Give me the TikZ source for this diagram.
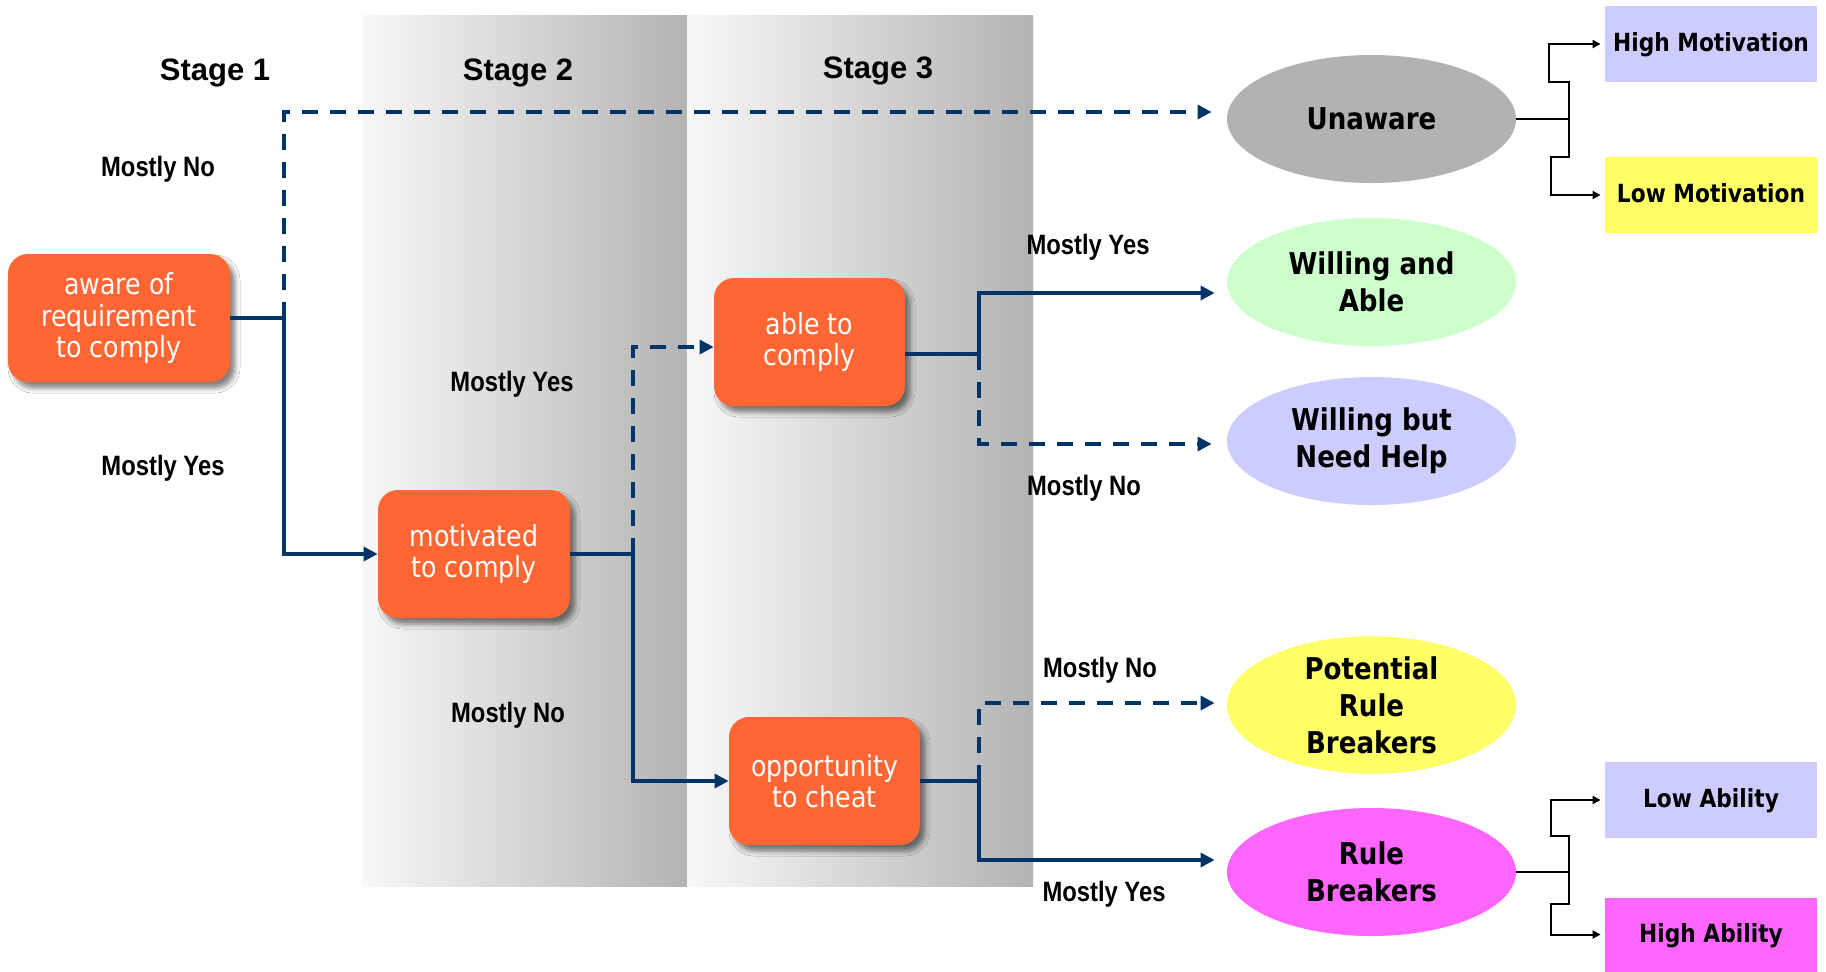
\documentclass[tikz,border=0pt]{standalone}
\usepackage{fontspec}
\setmainfont{Liberation Sans}
\newfontfamily\labfont[FakeStretch=0.85]{Liberation Sans}
\newfontfamily\tahfont[FakeStretch=0.87]{DejaVu Sans}
\usetikzlibrary{arrows.meta,shapes.geometric,shadows.blur,calc}
\definecolor{orng}{HTML}{FF6633}
\definecolor{navy}{HTML}{003366}
\definecolor{ugrey}{HTML}{B2B2B2}
\definecolor{ugreen}{HTML}{CCFFCC}
\definecolor{ulav}{HTML}{CCCCFF}
\definecolor{uyel}{HTML}{FFFF66}
\definecolor{umag}{HTML}{FF66FF}
\definecolor{panL}{HTML}{F8F8F8}
\definecolor{panR}{HTML}{B3B3B3}
\begin{document}
\begin{tikzpicture}[x=0.5pt,y=-0.5pt,
  flow/.style={line width=1.65pt, draw=navy},
  dsh/.style={dash pattern=on 8pt off 6pt},
  tipn/.style={-{Triangle[length=7pt,width=7pt]}},
  obox/.style={rectangle, rounded corners=10pt, fill=orng, text=white, align=center,
    inner sep=0pt, font=\tahfont\fontsize{14.5pt}{15.75pt}\selectfont,
    blur shadow={shadow xshift=2.5pt, shadow yshift=-3pt, shadow blur radius=2.5pt, shadow opacity=50}},
  oval/.style={ellipse, minimum width=144.5pt, minimum height=64pt, inner sep=0pt, align=center,
    font=\tahfont\bfseries\fontsize{15pt}{18.5pt}\selectfont},
  tag/.style={rectangle, minimum width=106pt, minimum height=38pt, inner sep=0pt,
    text height=9pt, text depth=1.5pt,
    font=\tahfont\bfseries\fontsize{12.5pt}{15pt}\selectfont},
  lbl/.style={font=\labfont\bfseries\fontsize{14pt}{16pt}\selectfont, inner sep=0pt},
  stg/.style={font=\bfseries\fontsize{15.5pt}{18pt}\selectfont, inner sep=0pt},
  brk/.style={line width=1pt, draw=black, -{Triangle[length=4pt,width=4pt]}, shorten >=2pt},
  brl/.style={line width=1pt, draw=black}
]
\useasboundingbox (0,0) rectangle (1826,971);
\fill[white] (0,0) rectangle (1826,971);
% panels
\shade[left color=panL, right color=panR] (362,15) rectangle (687,886);
\shade[left color=panL, right color=panR] (687,15) rectangle (1033,886);
% stage labels
\node[stg] (s1) at (215,73) {Stage 1};
\node[stg] (s2) at (518,73) {Stage 2};
\node[stg] (s3) at (878,71) {Stage 3};
% orange boxes
\node[obox, minimum width=111pt, minimum height=64pt] (aware) at (119,318) {aware of\\requirement\\to comply};
\node[obox, minimum width=96pt, minimum height=64pt] (mot) at (474,554) {motivated\\to comply};
\node[obox, minimum width=95.5pt, minimum height=64pt] (able) at (809.5,342) {able to\\comply};
\node[obox, minimum width=95.5pt, minimum height=64pt] (opp) at (824.5,781) {opportunity\\to cheat};
% ellipses
\node[oval, fill=ugrey] (unaware) at (1371.5,119) {Unaware};
\node[oval, fill=ugreen] (wa) at (1371.5,282) {Willing and\\Able};
\node[oval, fill=ulav] (wn) at (1371.5,441) {Willing but\\Need Help};
\node[oval, fill=uyel] (prb) at (1371.5,705) {Potential\\Rule\\Breakers};
\node[oval, fill=umag] (rb) at (1371.5,872) {Rule\\Breakers};
% tags
\node[tag, fill=ulav] (hm) at (1711,44) {High Motivation};
\node[tag, fill=uyel] (lm) at (1711,195) {Low Motivation};
\node[tag, fill=ulav] (la) at (1711,800) {Low Ability};
\node[tag, fill=umag, minimum height=37pt] (ha) at (1711,934.5) {High Ability};
% labels
\node[lbl] (l1) at (158,169) {Mostly No};
\node[lbl] (l2) at (163,468) {Mostly Yes};
\node[lbl] (l3) at (512,384) {Mostly Yes};
\node[lbl] (l4) at (508,715) {Mostly No};
\node[lbl] (l5) at (1088,247) {Mostly Yes};
\node[lbl] (l6) at (1084,488) {Mostly No};
\node[lbl] (l7) at (1100,670) {Mostly No};
\node[lbl] (l8) at (1104,894) {Mostly Yes};
% connectors stage 1
\coordinate (j1) at (284,318);
\draw[flow] (aware.east) -- (j1);
\draw[flow,tipn] (j1) |- (mot.west);
\draw[flow,dsh,tipn] (j1) |- ($(unaware.west)+(-15,-7)$);
% stage 2
\coordinate (j2) at (633,554);
\draw[flow] (mot.east) -- (j2);
\draw[flow,dsh,tipn] (j2) |- ($(able.west)+(0,5)$);
\draw[flow,tipn] (j2) |- (opp.west);
% stage 3 upper
\coordinate (j3) at (979,354);
\draw[flow] ($(able.east)+(0,12)$) -- (j3);
\draw[flow,tipn] (j3) |- ($(wa.west)+(-12,11)$);
\draw[flow,dsh,tipn] (j3) |- ($(wn.west)+(-15,3)$);
% stage 3 lower
\coordinate (j4) at (979,781);
\draw[flow] (opp.east) -- (j4);
\draw[flow,dsh,tipn] (j4) |- ($(prb.west)+(-12,-2)$);
\draw[flow,tipn] (j4) |- ($(rb.west)+(-12,-12)$);
% brackets
\coordinate (k1) at (1569,119);
\draw[brl] (unaware.east) -- (k1);
\draw[brk] (k1) -- (1569,82) -- (1549,82) |- (hm.west);
\draw[brk] (k1) -- (1569,157) -- (1551,157) |- (lm.west);
\coordinate (k2) at (1569,872);
\draw[brl] (rb.east) -- (k2);
\draw[brk] (k2) -- (1569,836) -- (1551,836) |- (la.west);
\draw[brk] (k2) -- (1569,904) -- (1551,904) |- (ha.west);
\end{tikzpicture}
\end{document}
